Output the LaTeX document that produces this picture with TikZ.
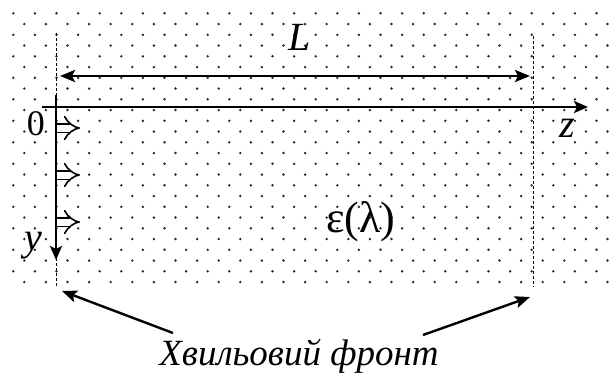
\documentclass[tikz,border=0pt]{standalone}
\usepackage{fontspec}
\setmainfont{Liberation Serif}
\usetikzlibrary{arrows.meta, positioning}

\begin{document}
\begin{tikzpicture}[x=1pt, y=-1pt]
    \tikzstyle{dot} = [fill=black!85]
    \tikzstyle{axis} = [line width=2.6pt, -{Stealth[length=14pt, width=12pt, inset=3pt]}]
    \tikzstyle{front} = [densely dashed, line width=0.9pt]
    \tikzstyle{pointer} = [line width=2.4pt, -{Stealth[length=15pt, width=12pt, inset=3pt]}]
    \tikzstyle{wave} = [double, double distance=7pt, line width=1.6pt, -{Implies}]
    \tikzstyle{lbl} = [inner sep=0pt, anchor=base, font=\fontsize{40}{46}\selectfont]

    \useasboundingbox (0,0) rectangle (613,376);

    % dotted medium
    \foreach \r in {0,...,25} {
        \pgfmathsetmacro{\yy}{13.3+10.75*\r}
        \pgfmathsetmacro{\xo}{mod(\r,2)*11}
        \foreach \c in {0,...,27}
            \fill[dot] (13.3+\xo+21.6*\c, \yy) circle (1.35pt);
    }

    \coordinate (ltop) at (56,33);
    \coordinate (lbot) at (56,287);
    \coordinate (rtop) at (533,36);
    \coordinate (rbot) at (533,287);
    \coordinate (zstart) at (42,107);
    \coordinate (zend) at (588,107);
    \coordinate (ystart) at (56,95);
    \coordinate (yend) at (56,260);
    \coordinate (La) at (60,76);
    \coordinate (Lb) at (530,76);
    \coordinate (lhit) at (62,291);
    \coordinate (rhit) at (530,297);
    \coordinate (lfoot) at (173,333);
    \coordinate (rfoot) at (423,335);

    \draw [front] (ltop) -- (lbot);
    \draw [front] (rtop) -- (rbot);
    \draw [axis] (zstart) -- (zend);
    \draw [axis] (ystart) -- (yend);
    \draw [line width=2.6pt, {Stealth[length=15pt, width=12pt, inset=3pt]}-{Stealth[length=15pt, width=12pt, inset=3pt]}] (La) -- (Lb);

    \foreach \w in {128,175,222}
        \draw [wave] (57,\w) -- (80,\w);

    \node (Llbl) [lbl] at (300,50) {\textit{L}};
    \node (zero) [lbl, font=\fontsize{36}{42}\selectfont] at (36,135) {0};
    \node (zlbl) [lbl] at (567,137) {\textit{z}};
    \node (ylbl) [lbl] at (33,250) {\textit{y}};
    \node (eps) [lbl, font=\fontsize{44}{50}\selectfont] at (361,232) {ε(λ)};
    \node (wf) [lbl, font=\fontsize{37}{42}\selectfont] at (299,365) {\textit{Хвильовий фронт}};

    \draw [pointer] (lfoot) -- (lhit);
    \draw [pointer] (rfoot) -- (rhit);
\end{tikzpicture}
\end{document}
